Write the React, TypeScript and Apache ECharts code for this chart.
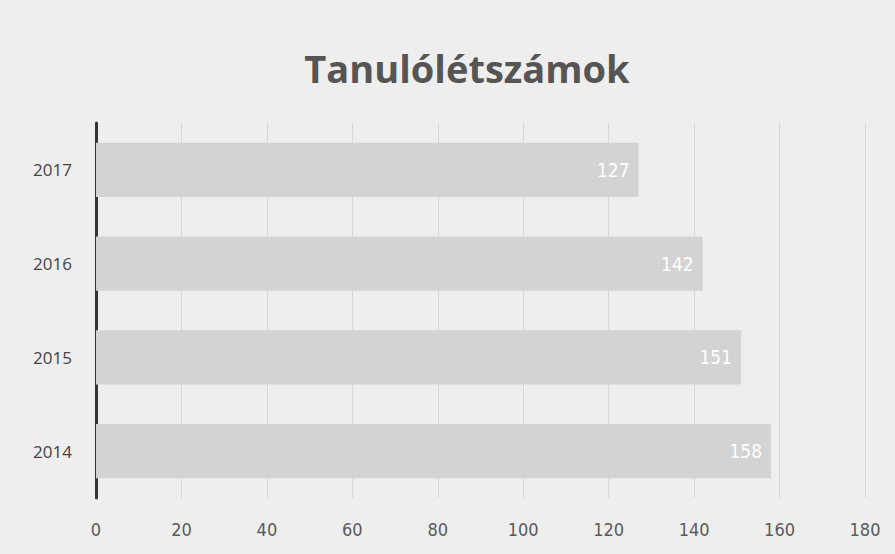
import React, { useEffect, useRef } from "react";
import * as echarts from "echarts";

const categories = ["2014", "2015", "2016", "2017"];
const values = [158, 151, 142, 127];
const xTicks = { min: 0, max: 180, interval: 20 };
const title = "Tanulólétszámok";

export default function App() {
  const ref = useRef<HTMLDivElement>(null);
  useEffect(() => {
    document.body.style.margin = "0";
    const chart = echarts.init(ref.current!, null, { renderer: "svg" });
    chart.setOption({
      animation: false,
      backgroundColor: "#eeeeee",
      title: {
        text: title,
        left: 462,
        textAlign: "center",
        top: 44,
        textStyle: {
          fontFamily: "Open Sans, DejaVu Sans, sans-serif",
          fontSize: 38,
          fontWeight: "bold",
          color: "#555555",
        },
      },
      grid: { left: 96, right: 30, top: 123, bottom: 56, containLabel: false },
      xAxis: {
        type: "value",
        min: xTicks.min,
        max: xTicks.max,
        interval: xTicks.interval,
        axisLine: { show: false },
        axisTick: { show: false },
        axisLabel: {
          margin: 22,
          fontSize: 18,
          color: "#5a5a5a",
          fontFamily: "Liberation Sans Narrow, DejaVu Sans Condensed, sans-serif",
        },
        splitLine: { show: true, lineStyle: { color: "#d8d8d8", width: 1 } },
      },
      yAxis: {
        type: "category",
        data: categories,
        axisLine: { show: true, lineStyle: { color: "#333333", width: 3 } },
        axisTick: { show: false },
        axisLabel: {
          margin: 24,
          fontSize: 17,
          color: "#444444",
          fontFamily: "Open Sans, DejaVu Sans, sans-serif",
        },
      },
      series: [
        {
          type: "bar",
          data: values,
          barCategoryGap: "42%",
          itemStyle: { color: "#d3d3d3" },
          label: {
            show: true,
            position: "insideRight",
            distance: 9,
            color: "#ffffff",
            fontSize: 19,
            fontFamily: "Liberation Sans Narrow, DejaVu Sans Condensed, sans-serif",
          },
        },
      ],
    });
    return () => chart.dispose();
  }, []);
  return <div ref={ref} style={{ width: 895, height: 554 }} />;
}
